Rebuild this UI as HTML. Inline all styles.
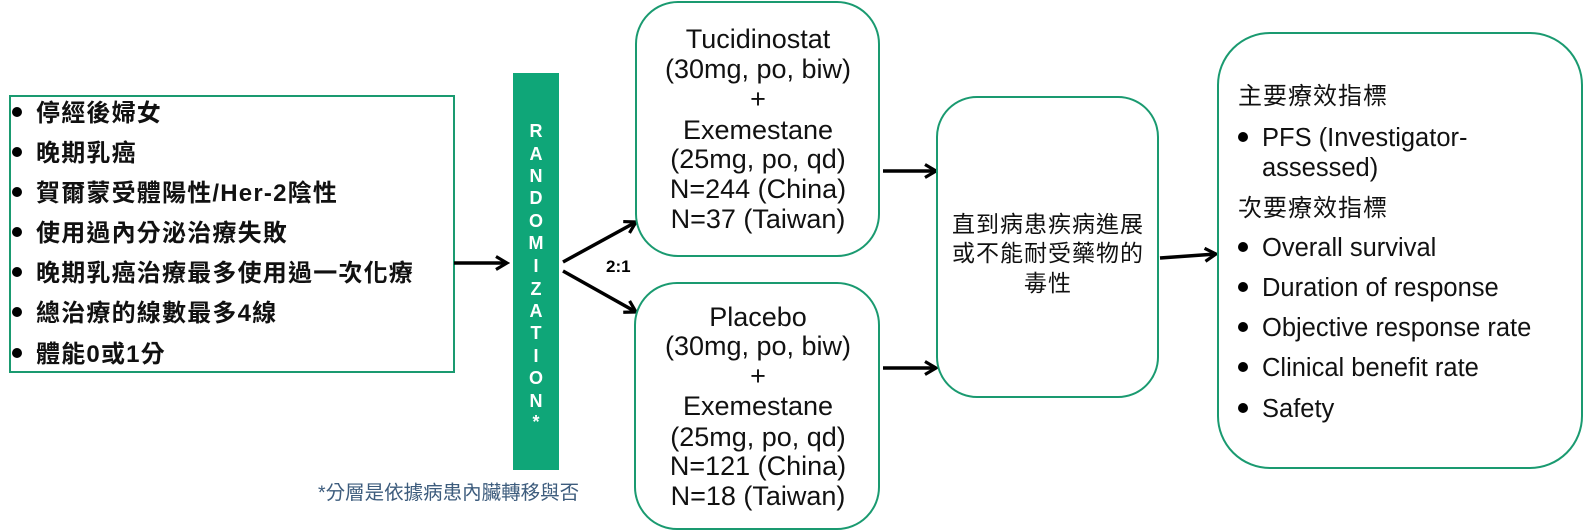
<!DOCTYPE html>
<html><head><meta charset="utf-8">
<style>
html,body{margin:0;padding:0;background:#fff;}
svg{display:block;}
.cj{font-family:"Liberation Sans","Noto Sans CJK TC",sans-serif;}
</style></head>
<body>
<svg width="1585" height="531" viewBox="0 0 1585 531" xmlns="http://www.w3.org/2000/svg">
<defs>
<marker id="ah" markerWidth="16" markerHeight="16" refX="13" refY="8" orient="auto" markerUnits="userSpaceOnUse">
<path d="M2,1.5 L13,8 L2,14.5" fill="none" stroke="#000" stroke-width="3.2"/>
</marker>
</defs>
<!-- left box -->
<rect x="10" y="96" width="444" height="276" fill="#fff" stroke="#1a9a70" stroke-width="2"/>
<g class="cj" font-size="24" fill="#111" font-weight="bold" letter-spacing="1.2">
<g fill="#000">
<circle cx="17" cy="112" r="5"/><circle cx="17" cy="152" r="5"/><circle cx="17" cy="192" r="5"/>
<circle cx="17" cy="232" r="5"/><circle cx="17" cy="272" r="5"/><circle cx="17" cy="312" r="5"/><circle cx="17" cy="353" r="5"/>
</g>
<text x="36" y="121">停經後婦女</text>
<text x="36" y="161">晚期乳癌</text>
<text x="36" y="201">賀爾蒙受體陽性/Her-2陰性</text>
<text x="36" y="241">使用過內分泌治療失敗</text>
<text x="36" y="281">晚期乳癌治療最多使用過一次化療</text>
<text x="36" y="321">總治療的線數最多4線</text>
<text x="36" y="362">體能0或1分</text>
</g>
<!-- arrow left -> bar -->
<line x1="454" y1="263" x2="507" y2="263" stroke="#000" stroke-width="3.5" marker-end="url(#ah)"/>
<!-- bar -->
<rect x="513" y="73" width="46" height="397" fill="#0fa678"/>
<g class="cj" font-size="18" fill="#fff" font-weight="bold" text-anchor="middle">
<text x="536" y="137">R</text><text x="536" y="160">A</text><text x="536" y="182">N</text>
<text x="536" y="204">D</text><text x="536" y="227">O</text><text x="536" y="249">M</text>
<text x="536" y="272">I</text><text x="536" y="295">Z</text><text x="536" y="317">A</text>
<text x="536" y="339">T</text><text x="536" y="362">I</text><text x="536" y="384">O</text>
<text x="536" y="407">N</text><text x="536" y="428">*</text>
</g>
<!-- branches -->
<line x1="563" y1="262" x2="636" y2="222" stroke="#000" stroke-width="3.5" marker-end="url(#ah)"/>
<line x1="563" y1="271" x2="636" y2="312" stroke="#000" stroke-width="3.5" marker-end="url(#ah)"/>
<text x="606" y="272" class="cj" font-size="17" font-weight="bold" fill="#000">2:1</text>
<text x="318" y="499" class="cj" font-size="19.5" fill="#3d5c7d">*分層是依據病患內臟轉移與否</text>
<!-- top box -->
<rect x="636" y="2" width="243" height="254" rx="42" fill="#fff" stroke="#1a9a70" stroke-width="2"/>
<g class="cj" font-size="27" fill="#111" text-anchor="middle">
<text x="758" y="48">Tucidinostat</text>
<text x="758" y="78">(30mg, po, biw)</text>
<text x="758" y="108">+</text>
<text x="758" y="139">Exemestane</text>
<text x="758" y="168">(25mg, po, qd)</text>
<text x="758" y="198">N=244 (China)</text>
<text x="758" y="228">N=37 (Taiwan)</text>
</g>
<!-- bottom box -->
<rect x="635" y="283" width="244" height="246" rx="42" fill="#fff" stroke="#1a9a70" stroke-width="2"/>
<g class="cj" font-size="27" fill="#111" text-anchor="middle">
<text x="758" y="326">Placebo</text>
<text x="758" y="355">(30mg, po, biw)</text>
<text x="758" y="385">+</text>
<text x="758" y="415">Exemestane</text>
<text x="758" y="446">(25mg, po, qd)</text>
<text x="758" y="475">N=121 (China)</text>
<text x="758" y="505">N=18 (Taiwan)</text>
</g>
<!-- arrows to middle -->
<line x1="883" y1="171" x2="936" y2="171" stroke="#000" stroke-width="3.5" marker-end="url(#ah)"/>
<line x1="883" y1="368" x2="936" y2="368" stroke="#000" stroke-width="3.5" marker-end="url(#ah)"/>
<!-- middle box -->
<rect x="937" y="97" width="221" height="300" rx="40" fill="#fff" stroke="#1a9a70" stroke-width="2"/>
<g class="cj" font-size="23" fill="#111" text-anchor="middle" letter-spacing="1">
<text x="1048" y="232">直到病患疾病進展</text>
<text x="1048" y="261">或不能耐受藥物的</text>
<text x="1048" y="291">毒性</text>
</g>
<line x1="1160" y1="258" x2="1216" y2="254" stroke="#000" stroke-width="3.5" marker-end="url(#ah)"/>
<!-- right box -->
<rect x="1218" y="33" width="364" height="435" rx="52" fill="#fff" stroke="#1a9a70" stroke-width="2"/>
<g class="cj" font-size="25.5" fill="#111">
<text x="1238" y="104" font-size="24" letter-spacing="1">主要療效指標</text>
<circle cx="1243" cy="137" r="5" fill="#000"/>
<text x="1262" y="146">PFS  (Investigator-</text>
<text x="1262" y="176">assessed)</text>
<text x="1238" y="216" font-size="24" letter-spacing="1">次要療效指標</text>
<circle cx="1243" cy="247" r="5" fill="#000"/>
<text x="1262" y="256">Overall survival</text>
<circle cx="1243" cy="287" r="5" fill="#000"/>
<text x="1262" y="296">Duration of response</text>
<circle cx="1243" cy="327" r="5" fill="#000"/>
<text x="1262" y="336">Objective response rate</text>
<circle cx="1243" cy="367" r="5" fill="#000"/>
<text x="1262" y="376">Clinical benefit rate</text>
<circle cx="1243" cy="408" r="5" fill="#000"/>
<text x="1262" y="417">Safety</text>
</g>
</svg>
</body></html>
